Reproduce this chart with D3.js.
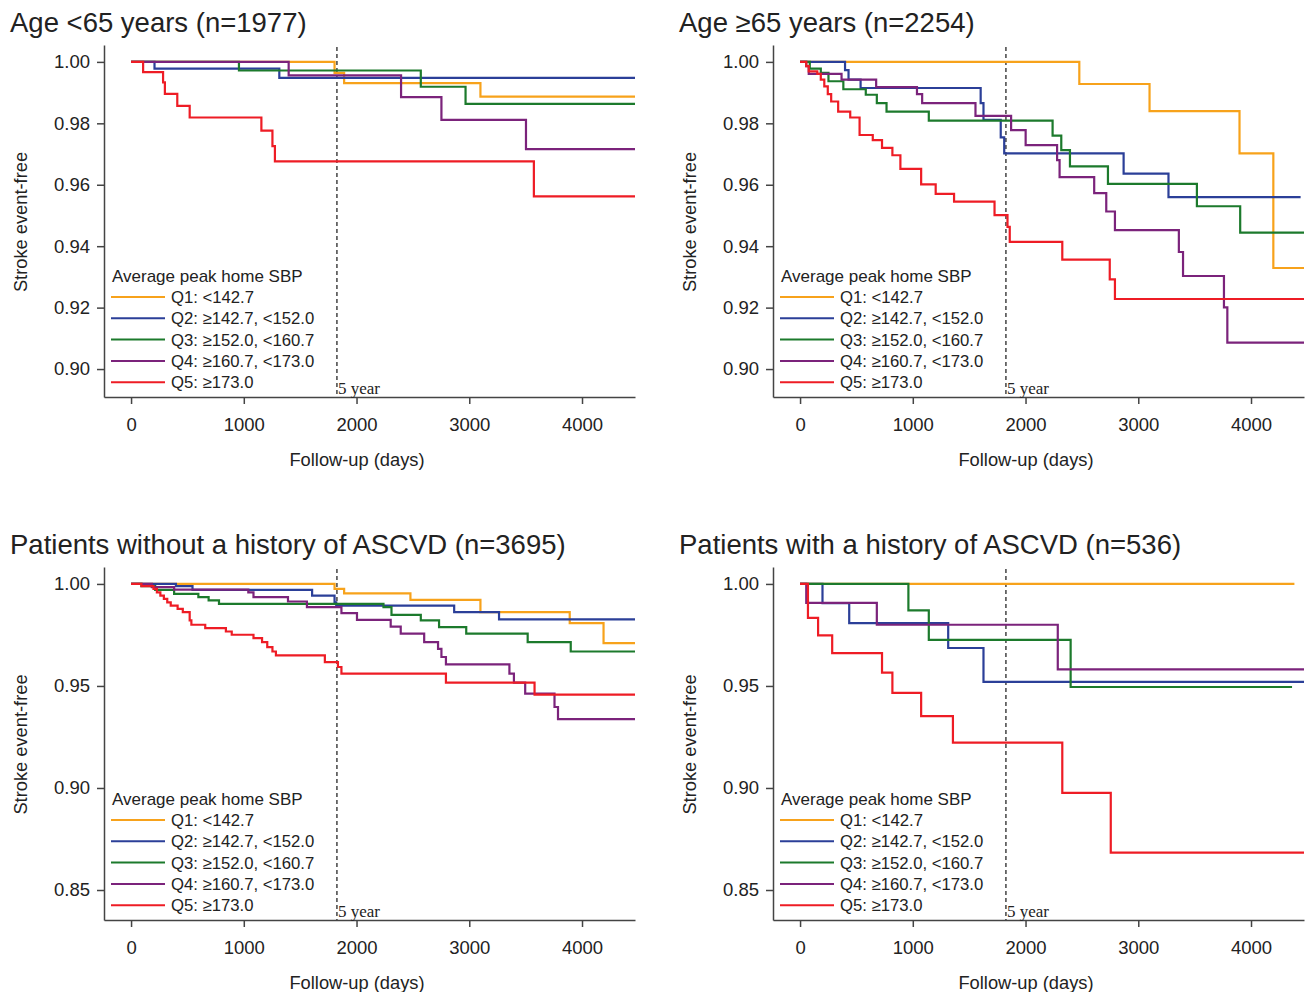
<!DOCTYPE html>
<html>
<head>
<meta charset="utf-8">
<script src="https://cdn.jsdelivr.net/npm/d3@7"></script>
<style>
  body { margin: 0; background: #fff; }
  text { font-family: "Liberation Sans", Arial, sans-serif; fill: #222; }
</style>
</head>
<body>
<svg width="1310" height="992"></svg>
<script>
// step data: [day, survival]; last point = end of follow-up
var seriesNames = ["Q1: <142.7", "Q2: \u2265142.7, <152.0", "Q3: \u2265152.0, <160.7", "Q4: \u2265160.7, <173.0", "Q5: \u2265173.0"];
var seriesColors = ["#f7a21b", "#2b3f98", "#1c7a2c", "#7b237b", "#ee1c25"];
var xTicks = [0, 1000, 2000, 3000, 4000];
var yTicksTop = [0.90, 0.92, 0.94, 0.96, 0.98, 1.00];
var yTicksBottom = [0.85, 0.90, 0.95, 1.00];

// Age <65
var under65Q1 = [[0, 1], [1805, 0.9964], [1890, 0.9931], [3099, 0.9887], [4470, 0.9887]];
var under65Q2 = [[0, 1], [208, 0.9978], [1315, 0.9948], [4470, 0.9948]];
var under65Q3 = [[0, 1], [957, 0.9972], [2570, 0.9919], [2967, 0.9863], [4470, 0.9863]];
var under65Q4 = [[0, 1], [1398, 0.9956], [2395, 0.9885], [2753, 0.9811], [3503, 0.9716], [4470, 0.9716]];
var under65Q5 = [[0, 1], [107, 0.9967], [284, 0.9933], [300, 0.9896], [410, 0.9857], [520, 0.9819], [1156, 0.9776], [1254, 0.9726], [1276, 0.9676], [3573, 0.9562], [4470, 0.9562]];

// Age >=65
var over65Q1 = [[0, 1], [2477, 0.9928], [3100, 0.9840], [3898, 0.9702], [4198, 0.9329], [4470, 0.9329]];
var over65Q2 = [[0, 1], [399, 0.9973], [430, 0.9942], [537, 0.9915], [1602, 0.9866], [1627, 0.9811], [1780, 0.9754], [1811, 0.9702], [2870, 0.9636], [3268, 0.9560], [4440, 0.9560]];
var over65Q3 = [[0, 1], [86, 0.9978], [184, 0.9964], [252, 0.9937], [384, 0.9911], [583, 0.9893], [681, 0.9866], [767, 0.9838], [1142, 0.9809], [2240, 0.9760], [2317, 0.9713], [2394, 0.9660], [2731, 0.9603], [3520, 0.9530], [3904, 0.9444], [4470, 0.9444]];
var over65Q4 = [[0, 1], [55, 0.9986], [77, 0.9961], [368, 0.9942], [675, 0.9918], [1037, 0.9895], [1083, 0.9866], [1556, 0.9824], [1872, 0.9778], [2001, 0.9729], [2280, 0.9680], [2302, 0.9625], [2609, 0.9573], [2716, 0.9513], [2793, 0.9452], [3360, 0.9381], [3397, 0.9303], [3760, 0.9201], [3790, 0.9086], [4470, 0.9086]];
var over65Q5 = [[0, 1], [55, 0.9986], [77, 0.9969], [153, 0.9961], [184, 0.9942], [215, 0.9920], [246, 0.9895], [276, 0.9871], [338, 0.9838], [445, 0.9819], [528, 0.9762], [645, 0.9745], [727, 0.9720], [819, 0.9696], [890, 0.9652], [1074, 0.9601], [1203, 0.9570], [1366, 0.9545], [1725, 0.9501], [1840, 0.9463], [1860, 0.9414], [2326, 0.9356], [2747, 0.9292], [2793, 0.9228], [4470, 0.9228]];

// without ASCVD
var noAscvdQ1 = [[0, 1], [1805, 0.9976], [1890, 0.9954], [2478, 0.9922], [3099, 0.9862], [3891, 0.9808], [4191, 0.9710], [4470, 0.9710]];
var noAscvdQ2 = [[0, 1], [398, 0.9989], [545, 0.9971], [1606, 0.9943], [1805, 0.9910], [1820, 0.9894], [2866, 0.9862], [3264, 0.9826], [4470, 0.9826]];
var noAscvdQ3 = [[0, 1], [92, 0.9989], [214, 0.9971], [382, 0.9951], [597, 0.9935], [688, 0.9919], [780, 0.9902], [2239, 0.9886], [2310, 0.9848], [2570, 0.9821], [2732, 0.9788], [2973, 0.9756], [3518, 0.9715], [3900, 0.9669], [4470, 0.9669]];
var noAscvdQ4 = [[0, 1], [184, 0.9984], [382, 0.9972], [1040, 0.9959], [1086, 0.9935], [1392, 0.9914], [1560, 0.9886], [1866, 0.9857], [2004, 0.9824], [2303, 0.9791], [2392, 0.9756], [2600, 0.9715], [2723, 0.9682], [2753, 0.9642], [2793, 0.9606], [3356, 0.9560], [3396, 0.9516], [3496, 0.9462], [3756, 0.9397], [3787, 0.9337], [4470, 0.9337]];
var noAscvdQ5 = [[0, 1], [92, 0.9989], [199, 0.9976], [229, 0.9959], [260, 0.9943], [291, 0.9927], [321, 0.9910], [352, 0.9894], [413, 0.9878], [459, 0.9862], [520, 0.9821], [535, 0.9800], [658, 0.9783], [841, 0.9767], [893, 0.9751], [1086, 0.9734], [1162, 0.9715], [1208, 0.9690], [1254, 0.9669], [1285, 0.9650], [1719, 0.9617], [1835, 0.9593], [1866, 0.9560], [2793, 0.9516], [3579, 0.9458], [4470, 0.9458]];

// with ASCVD
var ascvdQ1 = [[0, 1], [4385, 1]];
var ascvdQ2 = [[0, 1], [199, 0.9906], [436, 0.9808], [1314, 0.9686], [1627, 0.9520], [4470, 0.9520]];
var ascvdQ3 = [[0, 1], [961, 0.9870], [1142, 0.9726], [2400, 0.9495], [4364, 0.9495]];
var ascvdQ4 = [[0, 1], [55, 0.9907], [681, 0.9800], [2286, 0.9581], [4470, 0.9581]];
var ascvdQ5 = [[0, 1], [70, 0.9834], [160, 0.9748], [285, 0.9661], [727, 0.9565], [819, 0.9466], [1074, 0.9352], [1356, 0.9222], [2326, 0.8976], [2756, 0.8683], [4470, 0.8683]];

var panels = [
  { title: "Age <65 years (n=1977)", left: 104, top: 45, bottom: 397, yDomain: [0.8909, 1.0055], yTicks: yTicksTop,
    series: [under65Q1, under65Q2, under65Q3, under65Q4, under65Q5] },
  { title: "Age \u226565 years (n=2254)", left: 773, top: 45, bottom: 397, yDomain: [0.8909, 1.0055], yTicks: yTicksTop,
    series: [over65Q1, over65Q2, over65Q3, over65Q4, over65Q5] },
  { title: "Patients without a history of ASCVD (n=3695)", left: 104, top: 567, bottom: 920, yDomain: [0.8353, 1.0083], yTicks: yTicksBottom,
    series: [noAscvdQ1, noAscvdQ2, noAscvdQ3, noAscvdQ4, noAscvdQ5] },
  { title: "Patients with a history of ASCVD (n=536)", left: 773, top: 567, bottom: 920, yDomain: [0.8353, 1.0083], yTicks: yTicksBottom,
    series: [ascvdQ1, ascvdQ2, ascvdQ3, ascvdQ4, ascvdQ5] }
];

var svg = d3.select("svg");
var plotWidth = 531;

panels.forEach(function (p) {
  var x = d3.scaleLinear().domain([-240, 4470]).range([p.left, p.left + plotWidth]);
  var y = d3.scaleLinear().domain(p.yDomain).range([p.bottom, p.top]);
  var g = svg.append("g");

  g.append("text")
    .attr("x", p.left - 94)
    .attr("y", p.top - 13)
    .attr("font-size", 27.5)
    .text(p.title);

  // axes
  var yAxis = d3.axisLeft(y).tickValues(p.yTicks).tickFormat(d3.format(".2f")).tickSize(7).tickSizeOuter(0);
  var xAxis = d3.axisBottom(x).tickValues(xTicks).tickFormat(d3.format("d")).tickSize(7).tickSizeOuter(0);

  var ya = g.append("g").attr("transform", "translate(" + p.left + ",0)").call(yAxis);
  var xa = g.append("g").attr("transform", "translate(0," + p.bottom + ")").call(xAxis);
  [ya, xa].forEach(function (a) {
    a.select(".domain").attr("stroke", "#444").attr("stroke-width", 1.5);
    a.selectAll(".tick line").attr("stroke", "#444").attr("stroke-width", 1.5);
    a.selectAll(".tick text").attr("font-size", 18.5).attr("fill", "#222")
      .attr("font-family", "Liberation Sans, Arial, sans-serif");
  });
  ya.selectAll(".tick text").attr("x", -14);
  xa.selectAll(".tick text").attr("y", 21);

  g.append("text")
    .attr("transform", "translate(" + (p.left - 77.5) + "," + ((p.top + p.bottom) / 2 + 1) + ") rotate(-90)")
    .attr("text-anchor", "middle")
    .attr("font-size", 18.3)
    .text("Stroke event-free");

  g.append("text")
    .attr("x", p.left + 253)
    .attr("y", p.bottom + 69)
    .attr("text-anchor", "middle")
    .attr("font-size", 18.3)
    .text("Follow-up (days)");

  // 5-year reference
  g.append("line")
    .attr("x1", x(1826)).attr("x2", x(1826))
    .attr("y1", p.top + 2).attr("y2", p.bottom)
    .attr("stroke", "#444").attr("stroke-width", 1.5)
    .attr("stroke-dasharray", "4,3");
  g.append("text")
    .attr("x", x(1826) + 1)
    .attr("y", p.bottom - 3)
    .attr("font-size", 17)
    .style("font-family", "Liberation Serif, Times New Roman, serif")
    .text("5 year");

  // curves
  var line = d3.line()
    .x(function (d) { return x(d[0]); })
    .y(function (d) { return y(d[1]); })
    .curve(d3.curveStepAfter);

  p.series.forEach(function (s, i) {
    g.append("path")
      .datum(s)
      .attr("fill", "none")
      .attr("stroke", seriesColors[i])
      .attr("stroke-width", 2.2)
      .attr("d", line);
  });

  // legend
  var lg = g.append("g").attr("transform", "translate(" + (p.left + 7) + "," + (p.bottom - 121) + ")");
  lg.append("text").attr("x", 1).attr("y", 6).attr("font-size", 17).text("Average peak home SBP");
  seriesNames.forEach(function (name, i) {
    var yy = 21 + i * 21.3;
    lg.append("line").attr("x1", 0).attr("x2", 54).attr("y1", yy).attr("y2", yy)
      .attr("stroke", seriesColors[i]).attr("stroke-width", 2);
    lg.append("text").attr("x", 60).attr("y", yy + 6).attr("font-size", 16.7).text(name);
  });
});
</script>
</body>
</html>
